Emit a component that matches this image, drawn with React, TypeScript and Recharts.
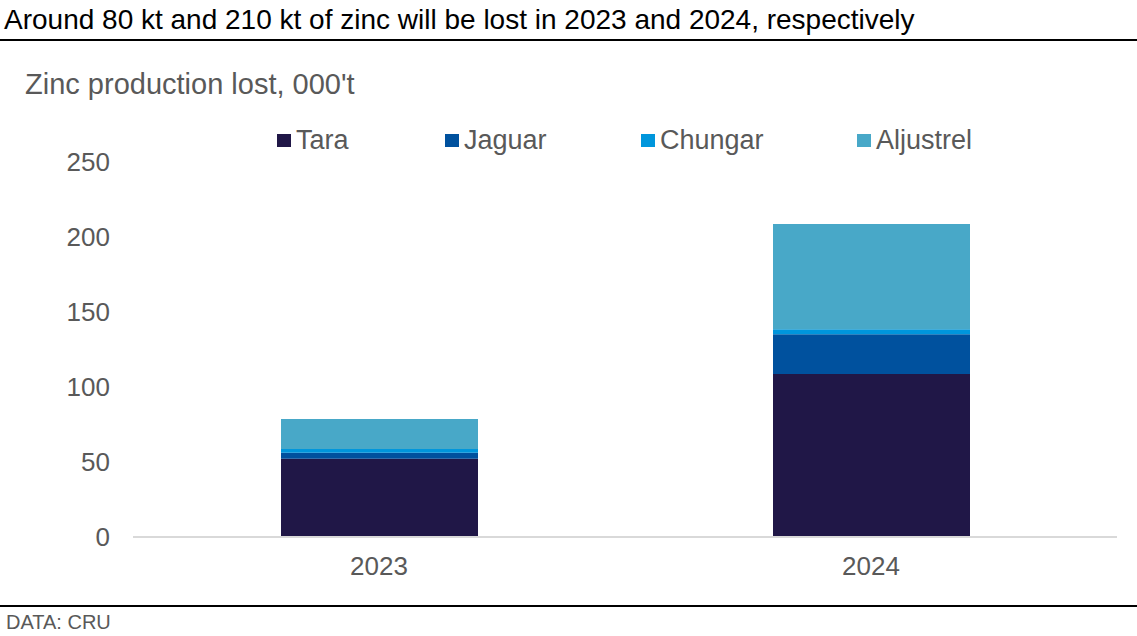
import React from 'react';
import { BarChart, Bar, XAxis, YAxis } from 'recharts';

const categories = ['2023', '2024'];
const tara = [52.2, 108.7];
const jaguar = [4.0, 26.4];
const chungar = [2.5, 3.4];
const aljustrel = [20.0, 70.2];
const yTicks = [0, 50, 100, 150, 200, 250];

const seriesNames = ['Tara', 'Jaguar', 'Chungar', 'Aljustrel'];
const seriesColors = ['#201747', '#00519E', '#0096DC', '#48A8C8'];
const seriesValues = [tara, jaguar, chungar, aljustrel];

const data = categories.map((c, i) => {
  const row: Record<string, string | number> = { year: c };
  seriesNames.forEach((n, k) => {
    row[n] = seriesValues[k][i];
  });
  return row;
});

const FONT = 'Liberation Sans, Arial, sans-serif';
const legendX = [277, 445, 641, 857];

const LegendBlock = () => (
  <div style={{ position: 'absolute', left: 0, top: 124, width: 1137, height: 36 }}>
    {seriesNames.map((n, i) => (
      <div
        key={n}
        style={{
          position: 'absolute',
          left: legendX[i],
          top: 0,
          display: 'flex',
          alignItems: 'center',
          fontFamily: FONT,
          fontSize: 27,
          lineHeight: '32px',
          color: '#595959',
          whiteSpace: 'nowrap',
        }}
      >
        <span style={{ display: 'inline-block', width: 14, height: 13, background: seriesColors[i], marginRight: 5 }} />
        {n}
      </div>
    ))}
  </div>
);

export default function App() {
  return (
    <div style={{ position: 'fixed', left: 0, top: 0, width: 1137, height: 636, background: '#fff', fontFamily: FONT }}>
      <div style={{ position: 'absolute', left: 0, top: 0 }}>
        <BarChart
          width={1137}
          height={636}
          data={data}
          margin={{ top: 162, right: 20, bottom: 0, left: 0 }}
          barSize={197}
        >
          <XAxis
            dataKey="year"
            height={99}
            axisLine={{ stroke: '#D9D9D9', strokeWidth: 2 }}
            tickLine={false}
            tickSize={0}
            tickMargin={20}
            tick={{ fill: '#595959', fontSize: 26, fontFamily: FONT }}
          />
          <YAxis
            width={133}
            domain={[0, 250]}
            ticks={yTicks}
            axisLine={false}
            tickLine={false}
            tickSize={0}
            tickMargin={23}
            tick={{ fill: '#595959', fontSize: 26, fontFamily: FONT }}
          />
          {seriesNames.map((n, i) => (
            <Bar key={n} dataKey={n} stackId="a" fill={seriesColors[i]} isAnimationActive={false} />
          ))}
        </BarChart>
      </div>
      <div style={{ position: 'absolute', left: 4, top: 3, fontSize: 28, lineHeight: '34px', color: '#000', whiteSpace: 'nowrap' }}>
        Around 80 kt and 210 kt of zinc will be lost in 2023 and 2024, respectively
      </div>
      <div style={{ position: 'absolute', left: 0, top: 39, width: 1137, height: 2, background: '#000' }} />
      <div style={{ position: 'absolute', left: 25, top: 67, fontSize: 29, lineHeight: '34px', color: '#595959', whiteSpace: 'nowrap' }}>
        Zinc production lost, 000't
      </div>
      <LegendBlock />
      <div style={{ position: 'absolute', left: 0, top: 605, width: 1137, height: 2, background: '#000' }} />
      <div style={{ position: 'absolute', left: 6, top: 610, fontSize: 20, lineHeight: '24px', color: '#595959', whiteSpace: 'nowrap' }}>
        DATA: CRU
      </div>
    </div>
  );
}
